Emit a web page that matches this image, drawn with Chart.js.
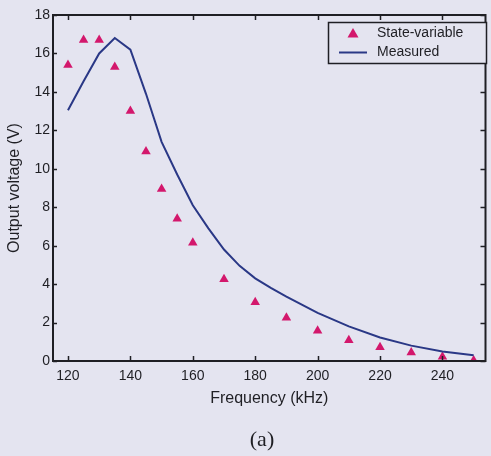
<!DOCTYPE html>
<html>
<head>
<meta charset="utf-8">
<script src="https://cdn.jsdelivr.net/npm/chart.js@4/dist/chart.umd.min.js"></script>
<style>
  html,body{margin:0;padding:0;background:#e4e4f0;overflow:hidden;}
  canvas{display:block;}
</style>
</head>
<body>
<canvas id="chart" width="491" height="456"></canvas>
<script>
// state-variable model (triangles)
const svFreq = [120,125,130,135,140,145,150,155,160,170,180,190,200,210,220,230,240,250];
const svVolt = [15.4,16.7,16.7,15.3,13.0,10.9,8.95,7.4,6.15,4.25,3.05,2.25,1.57,1.08,0.72,0.44,0.22,0.03];
// measured curve
const measFreq = [120,125,130,135,140,145,150,155,160,165,170,175,180,185,190,200,210,220,230,240,250];
const measVolt = [13.05,14.55,16.0,16.8,16.2,13.9,11.4,9.7,8.1,6.9,5.8,4.95,4.3,3.8,3.35,2.5,1.8,1.22,0.8,0.5,0.3];
const xTicks = [120,140,160,180,200,220,240];
const yTicks = [0,2,4,6,8,10,12,14,16,18];

const BG = '#e4e4f0', INK = '#1f1f24', PINK = '#d3176c', NAVY = '#2a3886';
const FONT = 'Liberation Sans, Arial, sans-serif';

const framePlugin = {
  id:'frame',
  beforeDraw(c){
    const ctx=c.ctx; ctx.save(); ctx.fillStyle=BG; ctx.fillRect(0,0,c.width,c.height); ctx.restore();
  },
  afterDraw(c){
    const ctx=c.ctx, a=c.chartArea, xs=c.scales.x, ys=c.scales.y;
    ctx.save();
    ctx.strokeStyle=INK; ctx.lineWidth=1.5;
    // inward ticks on all four sides
    ctx.beginPath();
    xTicks.forEach(v=>{const px=Math.round(xs.getPixelForValue(v))+0.5;
      ctx.moveTo(px,a.bottom); ctx.lineTo(px,a.bottom-5);
      ctx.moveTo(px,a.top); ctx.lineTo(px,a.top+5);});
    yTicks.forEach(v=>{const py=Math.round(ys.getPixelForValue(v))+0.5;
      ctx.moveTo(a.left,py); ctx.lineTo(a.left+4,py);
      ctx.moveTo(a.right,py); ctx.lineTo(a.right-5,py);});
    ctx.stroke();
    ctx.lineWidth=2;
    ctx.strokeRect(a.left,a.top,a.right-a.left,a.bottom-a.top);
    // legend box
    const lx=328.5, ly=22.5, lw=158, lh=41;
    ctx.fillStyle=BG; ctx.fillRect(lx,ly,lw,lh);
    ctx.lineWidth=1.5; ctx.strokeRect(lx,ly,lw,lh);
    const d0=c.data.datasets[0], d1=c.data.datasets[1];
    ctx.fillStyle=PINK;
    ctx.beginPath();
    ctx.moveTo(353,28); ctx.lineTo(358.5,37.5); ctx.lineTo(347.5,37.5); ctx.closePath(); ctx.fill();
    ctx.strokeStyle=NAVY; ctx.lineWidth=2;
    ctx.beginPath(); ctx.moveTo(339,52.5); ctx.lineTo(367,52.5); ctx.stroke();
    ctx.fillStyle=INK; ctx.font='14px '+FONT; ctx.textBaseline='middle'; ctx.textAlign='left';
    ctx.fillText(d0.label,377,33.5);
    ctx.fillText(d1.label,377,52);
    // panel caption
    ctx.font='22px Liberation Serif, Times New Roman, serif'; ctx.textAlign='center';
    ctx.fillText('(a)',262,440);
    ctx.restore();
  }
};

new Chart(document.getElementById('chart'),{
  type:'line',
  data:{datasets:[
    {label:'State-variable',data:svFreq.map((f,i)=>({x:f,y:svVolt[i]})),showLine:false,
      pointStyle:'triangle',pointRadius:5.5,pointBackgroundColor:PINK,pointBorderColor:PINK,pointBorderWidth:0,order:1},
    {label:'Measured',data:measFreq.map((f,i)=>({x:f,y:measVolt[i]})),borderColor:NAVY,borderWidth:2,
      pointRadius:0,tension:0,fill:false,order:0}
  ]},
  options:{
    responsive:false,animation:false,devicePixelRatio:1,
    layout:{padding:{left:0,right:1,top:15,bottom:38}},
    plugins:{legend:{display:false},tooltip:{enabled:false}},
    scales:{
      x:{type:'linear',min:115.2,max:253.8,
        afterBuildTicks:s=>{s.ticks=xTicks.map(v=>({value:v}));},
        afterFit:s=>{s.height=57;},
        grid:{display:false,drawTicks:false},border:{display:false},
        ticks:{font:{size:14,family:FONT},color:INK,padding:7,maxRotation:0},
        title:{display:true,text:'Frequency (kHz)',font:{size:16,family:FONT},color:INK,padding:{top:2,bottom:10}}},
      y:{type:'linear',min:0,max:18,
        afterBuildTicks:s=>{s.ticks=yTicks.map(v=>({value:v}));},
        afterFit:s=>{s.width=53;},
        grid:{display:false,drawTicks:false},border:{display:false},
        ticks:{font:{size:14,family:FONT},color:INK,padding:3},
        title:{display:true,text:'Output voltage (V)',font:{size:16,family:FONT},color:INK,padding:{top:5,bottom:0}}}
    }
  },
  plugins:[framePlugin]
});
</script>
</body>
</html>
